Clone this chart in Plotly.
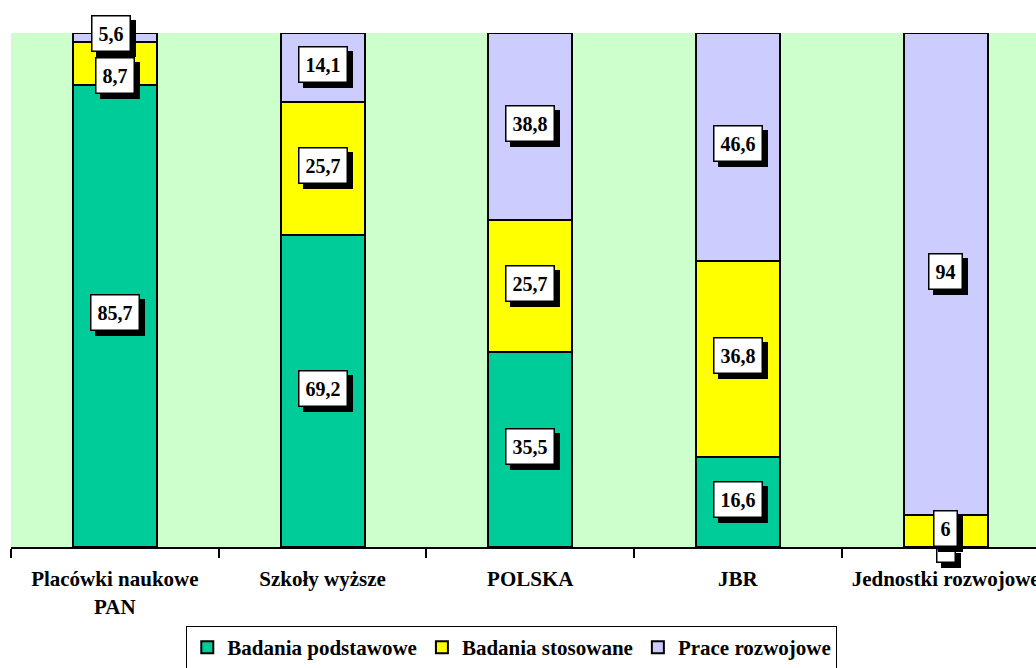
import plotly.graph_objects as go

# ---- data (bar heights as drawn, in % of the column) ----
categories = ["Placówki naukowe<br>PAN", "Szkoły wyższe", "POLSKA", "JBR", "Jednostki rozwojowe"]
badania_podstawowe = [89.9, 60.7, 37.9, 17.5, 0]
badania_stosowane = [8.4, 25.9, 25.7, 38.2, 6.2]
prace_rozwojowe = [1.7, 13.4, 36.4, 44.3, 93.8]
# label texts as printed on the chart
labels_podstawowe = ["85,7", "69,2", "35,5", "16,6", ""]
labels_stosowane = ["8,7", "25,7", "25,7", "36,8", "6"]
labels_rozwojowe = ["5,6", "14,1", "38,8", "46,6", "94"]

series = [
    ("Badania podstawowe", badania_podstawowe, labels_podstawowe, "#00CC99"),
    ("Badania stosowane", badania_stosowane, labels_stosowane, "#FFFF00"),
    ("Prace rozwojowe", prace_rozwojowe, labels_rozwojowe, "#CCCCFF"),
]

FONT = "Times New Roman, Liberation Serif, serif"

# per-label nudges (pixels) for labels the original moved to avoid overlaps
nudges = {(1, 0): (0, -12), (2, 0): (-4, 4)}

fig = go.Figure()
for name, vals, _, color in series:
    fig.add_trace(go.Bar(
        x=categories, y=vals, name=name, width=0.404,
        marker=dict(color=color, line=dict(color="black", width=2)),
    ))

base = [0.0] * len(categories)
annotations = []
for si, (name, vals, labs, color) in enumerate(series):
    for i, (v, t) in enumerate(zip(vals, labs)):
        mid = base[i] + v / 2
        base[i] += v
        xs, ys = nudges.get((si, i), (0, 3))
        empty = (t == "")
        if empty:
            ys = -8.5
        common = dict(x=categories[i], y=mid, xref="x", yref="y", showarrow=False,
                      font=dict(family=FONT, size=20, color="black", weight="bold"),
                      borderpad=6, borderwidth=1.5)
        txt = t if not empty else " "
        extra = {}
        if empty:
            extra = dict(width=17, height=12, borderpad=0,
                         font=dict(family=FONT, size=8, color="black"))
        shadow = dict(common, text=txt, bgcolor="black", bordercolor="black",
                      xshift=xs + 5, yshift=ys - 5)
        shadow.update(extra)
        annotations.append(shadow)
        box = dict(common, text=txt, bgcolor="white", bordercolor="black",
                   xshift=xs, yshift=ys)
        box.update(extra)
        annotations.append(box)

fig.update_layout(
    barmode="stack",
    width=1036, height=668,
    margin=dict(l=11, r=0, t=33, b=121, autoexpand=False),
    paper_bgcolor="white",
    plot_bgcolor="#CCFFCC",
    annotations=annotations,
    showlegend=True,
    legend=dict(
        orientation="h", traceorder="normal",
        xref="container", yref="container",
        x=0.494, xanchor="center",
        y=1 - 626 / 668, yanchor="top",
        bordercolor="black", borderwidth=1, bgcolor="white",
        font=dict(family=FONT, size=21, color="black", weight="bold"),
        itemwidth=30, tracegroupgap=0,
    ),
    xaxis=dict(
        range=[-0.5, 4.435], automargin=False,
        showline=True, linecolor="black", linewidth=2,
        ticks="outside", tickson="boundaries", ticklen=9, tickcolor="black", tickwidth=2,
        tickfont=dict(family=FONT, size=21, color="black", weight="bold"),
        ticklabelstandoff=12,
        showgrid=False, zeroline=False, fixedrange=True,
    ),
    yaxis=dict(range=[0, 100], visible=False, showgrid=False, zeroline=False),
)

fig.write_html("out.html")
